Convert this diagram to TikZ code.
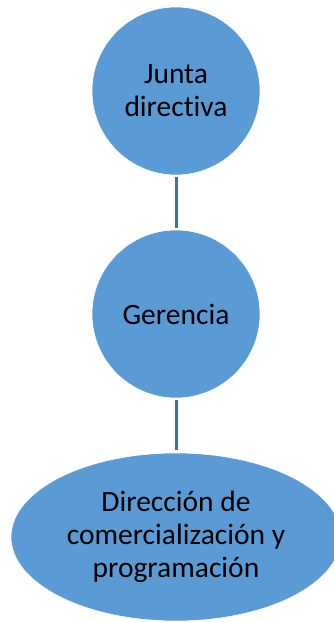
\documentclass[tikz,border=0pt]{standalone}
\usepackage{fontspec}
\setmainfont{Carlito}[Ligatures=NoCommon]
\usepackage{tikz}
\usetikzlibrary{shapes.geometric,positioning}
\definecolor{boxblue}{HTML}{5B9BD5}
\definecolor{linkblue}{HTML}{41719C}

\begin{document}
\begin{tikzpicture}[x=1pt, y=1pt,
    unit/.style={draw=white, line width=0.6pt, fill=boxblue, align=center, inner sep=0pt, font=\fontsize{29.5}{33}\selectfont},
    link/.style={draw=linkblue, line width=3pt}]
            \useasboundingbox (0,0) rectangle (334,-622);

            % Top
            \node[unit, circle, minimum size=168pt] (junta) at (176,-91) {Junta\\directiva};

            % Middle
            \node[unit, circle, minimum size=168pt] (gerencia) at (176,-314) {Gerencia};

            % Bottom
            \node[unit, ellipse, minimum width=330pt, minimum height=168pt] (direccion) at (176,-537) {Dirección de\\comercialización y\\programación};

            % Links
            \draw[link] ([yshift=-2pt]junta.south) -- ([yshift=2pt]gerencia.north);
            \draw[link] ([yshift=-2pt]gerencia.south) -- ([yshift=3pt]direccion.north);
        \end{tikzpicture}
\end{document}
